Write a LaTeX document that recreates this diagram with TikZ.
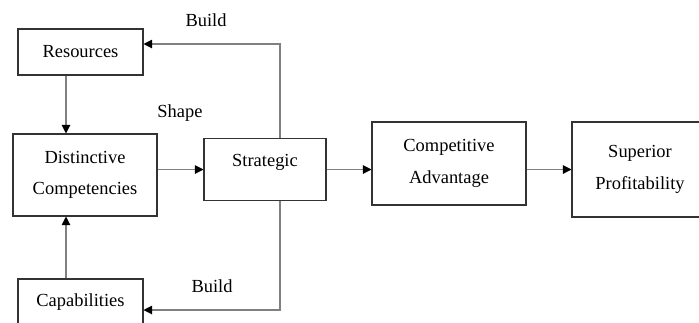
\documentclass[tikz,border=0pt]{standalone}
\usepackage{fontspec}
\setmainfont{Liberation Serif}
\usetikzlibrary{arrows.meta}

\tikzset{
  box/.style={draw=black!80, line width=0.6pt, align=center, inner sep=0pt},
  link/.style={draw=black!50, line width=0.6pt,
    -{Triangle[length=0.17cm, width=0.17cm, color=black]}}
}

\begin{document}
\begin{tikzpicture}[x=0.02cm, y=-0.02cm, font=\fontsize{10.5pt}{18pt}\selectfont]
  \useasboundingbox (0,0) rectangle (699,322);

  % Draw the boxes
  \node[box, minimum width=2.5cm, minimum height=0.92cm] (res) at (80.5,52) {Resources};
  \node[box, minimum width=2.88cm, minimum height=1.64cm] (dist) at (85,175) {Distinctive\\Competencies};
  \node[box, minimum width=2.5cm, minimum height=0.92cm] (cap) at (80.5,302) {Capabilities};
  \node[box, minimum width=2.44cm, minimum height=1.24cm] (strat) at (265,169.5) {};
  \node (strattxt) at ([yshift=0.15cm]strat.center) {Strategic}; % sits above the middle
  \node[box, minimum width=3.08cm, minimum height=1.66cm] (comp) at (449,163.5) {Competitive\\Advantage};
  \node[box, minimum width=2.72cm, minimum height=1.9cm] (sup) at (640,169.5) {Superior\\Profitability};

  % Feedback corners
  \coordinate (bt) at (280,44);
  \coordinate (bb) at (280,310);

  % Draw the arrows
  \draw[link] ([xshift=-0.29cm]res.south) -- ([xshift=-0.29cm]res.south |- dist.north);
  \draw[link] ([xshift=-0.29cm]cap.north) -- ([xshift=-0.29cm]cap.north |- dist.south);
  \draw[link] (strat.west -| dist.east) -- (strat.west);
  \draw[link] (strat.east) -- (strat.east -| comp.west);
  \draw[link] (sup.west -| comp.east) -- (sup.west);
  \draw[link] (strat.north -| bt) -- (bt) -- (bt -| res.east);
  \draw[link] (strat.south -| bb) -- (bb) -- (bb -| cap.east);

  % Labels on the arrows
  \node (buildtop) at (206,20) {Build};
  \node (shape) at (180,113) {Shape};
  \node (buildbot) at (212,286) {Build};
\end{tikzpicture}
\end{document}
